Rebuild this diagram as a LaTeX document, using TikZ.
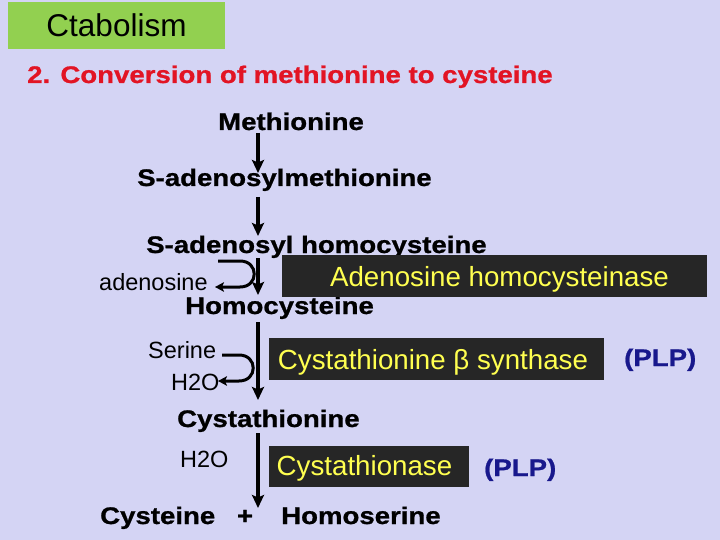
\documentclass[tikz,border=0pt]{standalone}
\usepackage{fontspec}
\setmainfont{Liberation Sans}
\newfontfamily\bfw[FakeStretch=1.15,FakeBold=0.9]{Liberation Sans Bold}
\usetikzlibrary{arrows.meta,calc}
\definecolor{bg}{RGB}{212,212,244}
\definecolor{grn}{RGB}{146,208,80}
\definecolor{ttl}{RGB}{226,20,36}
\definecolor{boxc}{RGB}{38,38,38}
\definecolor{yel}{RGB}{255,255,80}
\definecolor{navy}{RGB}{24,24,140}
\begin{document}
\begin{tikzpicture}[x=1pt,y=-1pt,
  cmp/.style={anchor=base west, inner sep=0pt, font=\bfw\fontsize{24}{28}\selectfont},
  lab/.style={anchor=base west, inner sep=0pt, font=\fontsize{23.5}{28}\selectfont},
  enz/.style={anchor=base, inner sep=0pt, text=yel, font=\fontsize{27.7}{32}\selectfont},
  ebox/.style={fill=boxc, draw=black!85, line width=0.8pt, inner sep=0pt, anchor=north west},
  plp/.style={cmp, text=navy},
  arr/.style={line width=3.2pt, -{Stealth[length=13pt,width=12pt,inset=2.5pt]}},
  carr/.style={line width=3pt, -{Stealth[length=9pt,width=9.5pt,inset=2pt]}}]
\useasboundingbox (0,0) rectangle (720,540);
\fill[bg] (0,0) rectangle (720,540);
% header
\node[fill=grn, minimum width=217pt, minimum height=47pt, inner sep=0pt,
      font=\fontsize{31.5}{36}\selectfont] (ctab) at (116.5,25.5) {Ctabolism};
\node[cmp, text=ttl] (title) at (27,83) {2. Conversion of methionine to cysteine};
% compounds
\node[cmp] (met) at (218,130) {Methionine};
\node[cmp] (sam) at (137,186) {S-adenosylmethionine};
\node[cmp] (sah) at (146,253) {S-adenosyl homocysteine};
\node[cmp] (hcy) at (185,314) {Homocysteine};
\node[cmp] (cth) at (177,427) {Cystathionine};
\node[cmp] (cys) at (100,524) {Cysteine};
\node[cmp, anchor=base] (plus) at (245,524) {+};
\node[cmp] (hse) at (281,524) {Homoserine};
% side labels
\node[lab] (ado) at (99,290) {adenosine};
\node[lab] (ser) at (148,358) {Serine};
\node[lab] (wat1) at (171,390) {H2O};
\node[lab] (wat2) at (180,467) {H2O};
% main spine arrows
\coordinate (sp) at (258,0);
\draw[arr] ($(met.base -| sp)+(0,3)$) -- ($(sam.base -| sp)+(0,-13)$);
\draw[arr] ($(sam.base -| sp)+(0,11)$) -- ($(sah.base -| sp)+(0,-17)$);
\draw[arr] ($(sah.base -| sp)+(0,5)$) -- ($(hcy.base -| sp)+(0,-19)$);
\draw[arr] ($(hcy.base -| sp)+(0,8)$) -- ($(cth.base -| sp)+(0,-27)$);
\draw[arr] ($(cth.base -| sp)+(0,6)$) -- ($(hse.base -| sp)+(0,-16)$);
% side curved arrows
\coordinate (c1s) at (218,261);
\coordinate (c1e) at (215,287);
\draw[carr] (c1s) -- (240,261) .. controls (259,261) and (259,287) .. (240,287) -- (c1e);
\coordinate (c2s) at (222,355);
\coordinate (c2e) at (218,381);
\draw[carr] (c2s) -- (239,355) .. controls (258,355) and (258,381) .. (239,381) -- (c2e);
% enzyme boxes
\node[ebox, minimum width=424pt, minimum height=41pt] (ahbox) at (282,255) {};
\node[enz] (ahtxt) at (499.5,286) {Adenosine homocysteinase};
\node[ebox, minimum width=334pt, minimum height=41pt] (cbsbox) at (269,338) {};
\node[enz] (cbstxt) at (433,369) {Cystathionine β synthase};
\node[ebox, minimum width=199pt, minimum height=40pt] (ctbox) at (269,446) {};
\node[enz] (cttxt) at (364.5,475) {Cystathionase};
% cofactors
\node[plp] (plp1) at (624,366) {(PLP)};
\node[plp] (plp2) at (484,476) {(PLP)};
\end{tikzpicture}
\end{document}
